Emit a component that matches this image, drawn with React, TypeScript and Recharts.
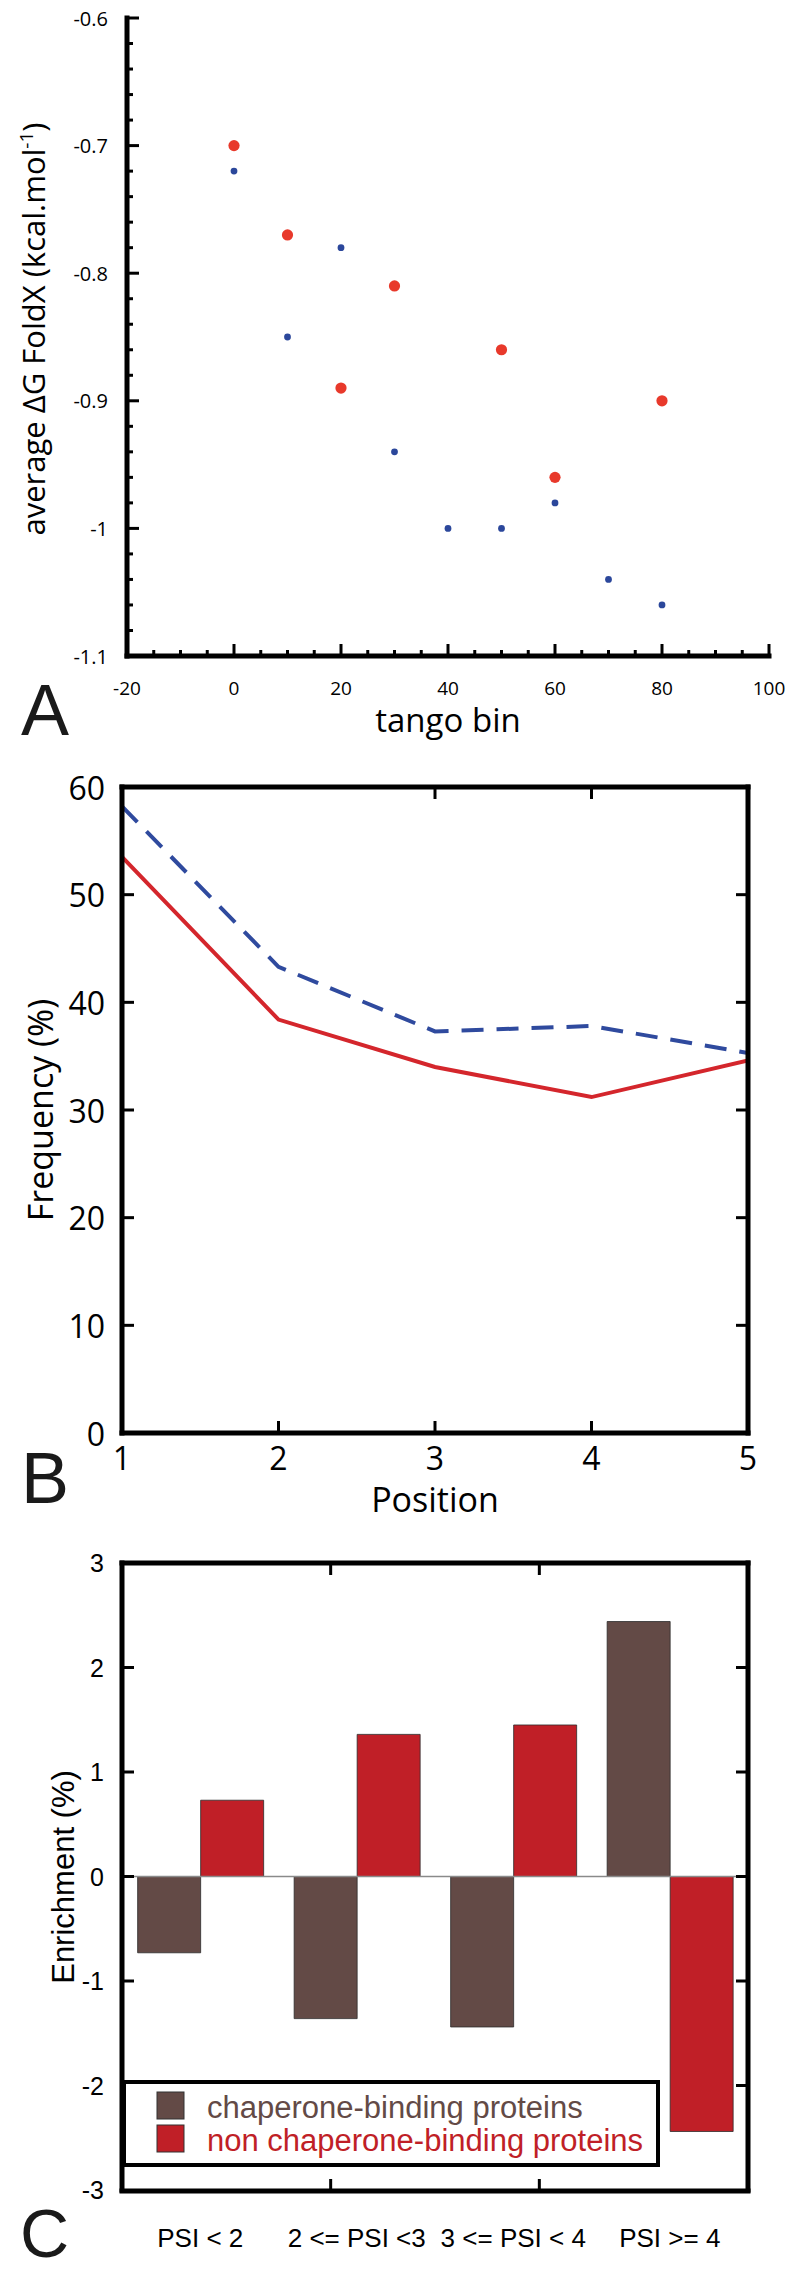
import { Bar, BarChart, Legend, Line, LineChart, ReferenceLine, Scatter, ScatterChart, XAxis, YAxis } from "recharts"

const OPEN = "'Open Sans', 'DejaVu Sans', sans-serif"
const HELV = "'Liberation Sans', Arial, sans-serif"

// A: average dG FoldX per tango bin
const blueBins = [0, 10, 20, 30, 40, 50, 60, 70, 80]
const blueFoldX = [-0.72, -0.85, -0.78, -0.94, -1.0, -1.0, -0.98, -1.04, -1.06]
const redBins = [0, 10, 20, 30, 50, 60, 80]
const redFoldX = [-0.7, -0.77, -0.89, -0.81, -0.86, -0.96, -0.9]
const tangoTicks = [-20, -15, -10, -5, 0, 5, 10, 15, 20, 25, 30, 35, 40, 45, 50, 55, 60, 65, 70, 75, 80, 85, 90, 95, 100]
const foldXTicks = [
  -1.1, -1.08, -1.06, -1.04, -1.02, -1.0, -0.98, -0.96, -0.94, -0.92, -0.9, -0.88, -0.86,
  -0.84, -0.82, -0.8, -0.78, -0.76, -0.74, -0.72, -0.7, -0.68, -0.66, -0.64, -0.62, -0.6,
]

// B: frequency per position
const positions = [1, 2, 3, 4, 5]
const freqDashed = [58.2, 43.3, 37.3, 37.8, 35.3]
const freqSolid = [53.5, 38.4, 34.0, 31.2, 34.6]
const freqTicks = [0, 10, 20, 30, 40, 50, 60]
const freqInnerTicks = [10, 20, 30, 40, 50]
const posInnerTicks = [2, 3, 4]

// C: enrichment per PSI bin
const psiBins = ["PSI < 2", "2 <= PSI <3", "3 <= PSI < 4", "PSI >= 4"]
const chaperoneBinding = [-0.73, -1.36, -1.44, 2.44]
const nonChaperoneBinding = [0.73, 1.36, 1.45, -2.44]
const enrichTicks = [-3, -2, -1, 0, 1, 2, 3]
const enrichInnerTicks = [-2, -1, 0, 1, 2]
const edgeTicks = [1, 2, 3]

const RED_A = "#e8392b"
const BLUE_A = "#2b479b"
const RED_B = "#d4262c"
const BLUE_B = "#2f4a9e"
const BROWN = "#634a46"
const RED_C = "#c01f27"

const redPoints = redBins.map((bin, i) => ({ bin, foldx: redFoldX[i] }))
const bluePoints = blueBins.map((bin, i) => ({ bin, foldx: blueFoldX[i] }))
const dataB = positions.map((pos, i) => ({ pos, dashed: freqDashed[i], solid: freqSolid[i] }))
const dataC = psiBins.map((psi, i) => ({ psi, chaperone: chaperoneBinding[i], nonChaperone: nonChaperoneBinding[i] }))

const axisLine = { stroke: "#000", strokeWidth: 5, strokeLinecap: "square" as const }
// shared props for every frame axis: ticks are drawn by the custom tick renderers
const frame = {
  stroke: "#000",
  strokeWidth: 5,
  allowDataOverflow: true,
  interval: 0 as const,
  tickSize: 0,
  tickMargin: 0,
  tickLine: false,
  axisLine,
}

const tickTangoX = (p: any) => {
  const v = p.payload.value as number
  const major = v % 20 === 0
  return (
    <g>
      <line x1={p.x} x2={p.x} y1={p.y} y2={p.y - (major ? 12 : 6)} stroke="#000" strokeWidth={3} />
      {major && (
        <text x={p.x} y={p.y + 39} textAnchor="middle" fontSize={19} fontFamily={OPEN} fill="#000" stroke="none">
          {v}
        </text>
      )}
    </g>
  )
}

const tickFoldY = (p: any) => {
  const v = p.payload.value as number
  const major = Math.abs(v * 10 - Math.round(v * 10)) < 1e-6
  return (
    <g>
      <line x1={p.x} x2={p.x + (major ? 12 : 6)} y1={p.y} y2={p.y} stroke="#000" strokeWidth={3} />
      {major && (
        <text x={p.x - 19} y={p.y} textAnchor="end" dominantBaseline="central" fontSize={20} fontFamily={OPEN} fill="#000" stroke="none">
          {String(Math.round(v * 10) / 10)}
        </text>
      )}
    </g>
  )
}

const tickPosX = (p: any) => {
  const v = p.payload.value as number
  return (
    <g>
      {v > 1 && v < 5 && <line x1={p.x} x2={p.x} y1={p.y} y2={p.y - 12} stroke="#000" strokeWidth={3} />}
      <text x={p.x} y={p.y + 37} textAnchor="middle" fontSize={32} fontFamily={OPEN} fill="#000" stroke="none">
        {v}
      </text>
    </g>
  )
}

const tickFreqY = (p: any) => {
  const v = p.payload.value as number
  return (
    <g>
      {v > 0 && v < 60 && <line x1={p.x} x2={p.x + 12} y1={p.y} y2={p.y} stroke="#000" strokeWidth={3} />}
      <text x={p.x - 17} y={p.y} textAnchor="end" dominantBaseline="central" fontSize={32} fontFamily={OPEN} fill="#000" stroke="none">
        {v}
      </text>
    </g>
  )
}

const tickEnrichY = (p: any) => {
  const v = p.payload.value as number
  return (
    <g>
      {v > -3 && v < 3 && <line x1={p.x} x2={p.x + 12} y1={p.y} y2={p.y} stroke="#000" strokeWidth={3} />}
      <text x={p.x - 18} y={p.y} textAnchor="end" dominantBaseline="central" fontSize={25} fontFamily={HELV} fill="#000" stroke="none">
        {v}
      </text>
    </g>
  )
}

const tickUp = (p: any) => <line x1={p.x} x2={p.x} y1={p.y} y2={p.y - 12} stroke="#000" strokeWidth={3} />
const tickDown = (p: any) => <line x1={p.x} x2={p.x} y1={p.y} y2={p.y + 12} stroke="#000" strokeWidth={3} />
const tickLeftward = (p: any) => <line x1={p.x} x2={p.x - 12} y1={p.y} y2={p.y} stroke="#000" strokeWidth={3} />

const tickPsi = (p: any) => (
  <text x={p.x} y={p.y + 57} textAnchor="middle" fontSize={26} fontFamily={HELV} fill="#000" stroke="none">
    {p.payload.value}
  </text>
)

function Title({ x, y, angle, size, family, children }: any) {
  return (
    <text
      x={x}
      y={y}
      textAnchor="middle"
      fontSize={size}
      fontFamily={family}
      fill="#000"
      transform={angle ? `rotate(${angle} ${x} ${y})` : undefined}
    >
      {children}
    </text>
  )
}

const legendC = (props: any) => {
  const items = props.payload || []
  return (
    <svg width={538} height={87} style={{ display: "block" }}>
      <rect x={2} y={2} width={534} height={83} fill="#fff" stroke="#000" strokeWidth={4} />
      {items.map((it: any, i: number) => (
        <g key={it.value}>
          <rect x={35} y={12 + i * 33} width={27} height={27} fill={it.color} stroke="#333" strokeWidth={1} />
          <text x={85} y={38 + i * 33} fontSize={31} fontFamily={HELV} fill={it.color}>
            {it.value}
          </text>
        </g>
      ))}
    </svg>
  )
}

export default function App() {
  return (
    <div style={{ position: "absolute", left: 0, top: 0, width: 799, height: 2272, background: "#fff", overflow: "hidden" }}>
      <svg width={799} height={2272} style={{ position: "absolute", left: 0, top: 0 }}>
        <text x={21} y={735} fontSize={72} fontFamily={HELV} fill="#1a1a1a">A</text>
        <text x={21} y={1503} fontSize={72} fontFamily={HELV} fill="#1a1a1a">B</text>
        <text x={20} y={2257} fontSize={68} fontFamily={HELV} fill="#1a1a1a">C</text>

        <Title x={45} y={329} angle={-90} size={31} family={OPEN}>
          average ΔG FoldX (kcal.mol
          <tspan fontSize={19} dy={-12}>-1</tspan>
          <tspan dy={12}>)</tspan>
        </Title>
        <Title x={448} y={732} size={33} family={OPEN}>
          tango bin
        </Title>
        <Title x={53} y={1110} angle={-90} size={34} family={OPEN}>
          Frequency (%)
        </Title>
        <Title x={435} y={1512} size={34} family={OPEN}>
          Position
        </Title>
        <Title x={74} y={1877} angle={-90} size={31} family={HELV}>
          Enrichment (%)
        </Title>
      </svg>

      <div style={{ position: "absolute", left: 0, top: 0 }}>
        <ScatterChart width={799} height={760} margin={{ top: 18, right: 30, bottom: 103, left: 126 }}>
          <XAxis {...frame} dataKey="bin" type="number" domain={[-20, 100]} ticks={tangoTicks} height={1} tick={tickTangoX} />
          <YAxis {...frame} dataKey="foldx" type="number" domain={[-1.1, -0.6]} ticks={foldXTicks} width={1} tick={tickFoldY} />
          <Scatter data={bluePoints} isAnimationActive={false} shape={(p: any) => <circle cx={p.cx} cy={p.cy} r={3.4} fill={BLUE_A} />} />
          <Scatter data={redPoints} isAnimationActive={false} shape={(p: any) => <circle cx={p.cx} cy={p.cy} r={5.6} fill={RED_A} />} />
        </ScatterChart>
      </div>

      <div style={{ position: "absolute", left: 0, top: 760 }}>
        <LineChart width={799} height={800} data={dataB} margin={{ top: 26, right: 50, bottom: 126, left: 121 }}>
          <XAxis {...frame} dataKey="pos" type="number" domain={[1, 5]} ticks={positions} height={1} tick={tickPosX} />
          <XAxis {...frame} xAxisId="top" orientation="top" type="number" domain={[1, 5]} ticks={posInnerTicks} height={1} tick={tickDown} />
          <YAxis {...frame} type="number" domain={[0, 60]} ticks={freqTicks} width={1} tick={tickFreqY} />
          <YAxis {...frame} yAxisId="right" orientation="right" type="number" domain={[0, 60]} ticks={freqInnerTicks} width={1} tick={tickLeftward} />
          <Line type="linear" dataKey="dashed" stroke={BLUE_B} strokeWidth={4} strokeDasharray="22 13" dot={false} isAnimationActive={false} />
          <Line type="linear" dataKey="solid" stroke={RED_B} strokeWidth={4} dot={false} isAnimationActive={false} />
        </LineChart>
      </div>

      <div style={{ position: "absolute", left: 0, top: 1540 }}>
        <BarChart width={799} height={732} data={dataC} margin={{ top: 22, right: 50, bottom: 80, left: 121 }} barGap={0} barCategoryGap="10%">
          <XAxis {...frame} xAxisId="edge" type="number" domain={[0, 4]} ticks={edgeTicks} height={1} tick={tickUp} />
          <XAxis {...frame} xAxisId="edgeTop" orientation="top" type="number" domain={[0, 4]} ticks={edgeTicks} height={1} tick={tickDown} />
          <XAxis xAxisId="cat" dataKey="psi" interval={0} height={1} tickSize={0} tickMargin={0} tickLine={false} axisLine={false} tick={tickPsi} />
          <YAxis {...frame} type="number" domain={[-3, 3]} ticks={enrichTicks} width={1} tick={tickEnrichY} />
          <YAxis {...frame} yAxisId="right" orientation="right" type="number" domain={[-3, 3]} ticks={enrichInnerTicks} width={1} tick={tickLeftward} />
          <ReferenceLine xAxisId="cat" y={0} stroke="#8a8a8a" strokeWidth={1.5} />
          <Bar xAxisId="cat" dataKey="chaperone" name="chaperone-binding proteins" fill={BROWN} stroke="#2b2b2b" strokeWidth={0.8} isAnimationActive={false} />
          <Bar xAxisId="cat" dataKey="nonChaperone" name="non chaperone-binding proteins" fill={RED_C} stroke="#2b2b2b" strokeWidth={0.8} isAnimationActive={false} />
          <Legend
            layout="vertical"
            align="center"
            verticalAlign="middle"
            wrapperStyle={{ position: "absolute", left: 122, top: 540, width: 538, height: 87 }}
            content={legendC}
          />
        </BarChart>
      </div>
    </div>
  )
}
